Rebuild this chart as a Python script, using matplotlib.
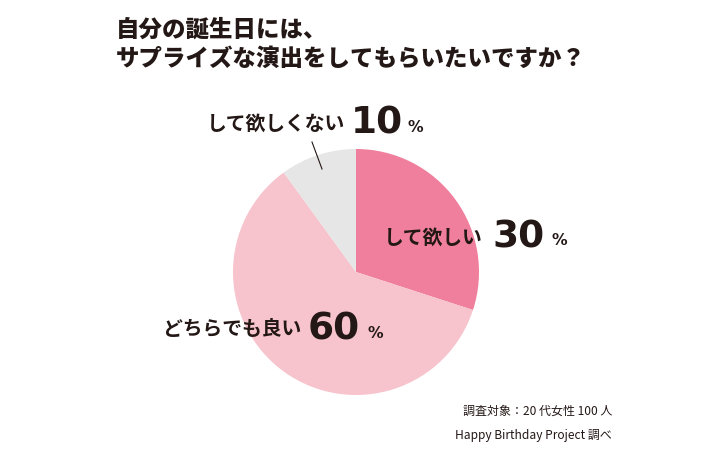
import matplotlib
matplotlib.use("Agg")
import matplotlib.pyplot as plt

categories = ["して欲しい", "どちらでも良い", "して欲しくない"]
values = [30, 60, 10]
colors = ["#EF7F9C", "#F7C3CD", "#E6E6E6"]

W, H = 705, 460
fig = plt.figure(figsize=(W/100, H/100), dpi=100)
fig.patch.set_facecolor("white")
cx, cy, r = 356, 273, 123
ax = fig.add_axes([(cx-r)/W, 1-(cy+r)/H, 2*r/W, 2*r/H])
ax.pie(values, colors=colors, startangle=90, counterclock=False,
       wedgeprops=dict(linewidth=0))
ax.set_aspect("auto")
ax.set_xlim(-1, 1); ax.set_ylim(-1, 1)

F = "Noto Sans CJK JP"
def t(x, y, s, size, weight="bold", ha="left", color="#231815", fam=F):
    fig.text(x/W, 1-y/H, s, fontsize=size*0.75, fontfamily=fam, fontweight=weight,
             ha=ha, va="center", color=color)

t(116, 29, "自分の誕生日には、", 22.5, weight="black")
t(116, 58, "サプライズな演出をしてもらいたいですか？", 22.5, weight="black")

N = "DejaVu Sans"
t(345, 124, "して欲しくない", 19, ha="right")
t(351, 124, "10", 36, fam=N)
t(408, 127, "%", 15, fam=N)
t(483, 238, "して欲しい", 19, ha="right")
t(492, 238, "30", 36, fam=N)
t(551, 241, "%", 15, fam=N)
t(301, 330, "どちらでも良い", 19, ha="right")
t(308, 330, "60", 36, fam=N)
t(367, 333, "%", 15, fam=N)

fig.add_artist(plt.Line2D([312/W, 322/W], [1-143/H, 1-170/H], color="#231815", lw=0.8))

t(612, 411, "調査対象：20 代女性 100 人", 11.5, weight="normal", ha="right")
t(612, 436, "Happy Birthday Project 調べ", 11.5, weight="normal", ha="right")

fig.savefig("out.png", dpi=100, facecolor="white")
